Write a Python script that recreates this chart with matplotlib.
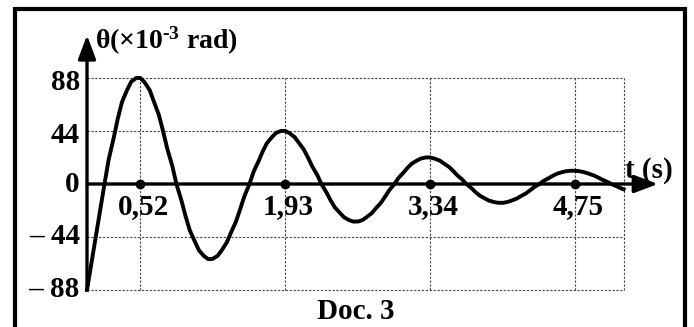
import matplotlib
matplotlib.use("Agg")
import matplotlib.pyplot as plt
from matplotlib.patches import Rectangle

plt.rcParams['font.family'] = ['Liberation Serif', 'DejaVu Serif']
plt.rcParams['font.weight'] = 'bold'
plt.rcParams['mathtext.fontset'] = 'custom'
plt.rcParams['mathtext.rm'] = 'Liberation Serif:bold'
plt.rcParams['mathtext.bf'] = 'Liberation Serif:bold'
plt.rcParams['mathtext.it'] = 'Liberation Serif:bold'

t = [0, 0.17, 0.21, 0.26, 0.30, 0.34, 0.39, 0.43, 0.48,
     0.52, 0.56, 0.61, 0.65, 0.70, 0.74, 0.78, 0.83, 0.87, 0.92, 0.96, 1.00,
     1.05, 1.09, 1.14, 1.18, 1.22, 1.27, 1.31, 1.36, 1.40, 1.45, 1.49, 1.53,
     1.58, 1.62, 1.67, 1.71, 1.75, 1.80, 1.84, 1.89,
     1.93, 1.97, 2.02, 2.06, 2.11, 2.15, 2.19, 2.24, 2.28, 2.33, 2.37, 2.41,
     2.46, 2.50, 2.55, 2.59, 2.64, 2.68, 2.72, 2.77, 2.81, 2.86, 2.90, 2.94,
     2.99, 3.03, 3.08, 3.12, 3.16, 3.21, 3.25, 3.30,
     3.34, 3.38, 3.43, 3.47, 3.52, 3.56, 3.60, 3.65, 3.69, 3.74, 3.78, 3.82,
     3.87, 3.91, 3.96, 4.00, 4.05, 4.09, 4.13, 4.18, 4.22, 4.27, 4.31, 4.35,
     4.40, 4.44, 4.49, 4.53, 4.57, 4.62, 4.66, 4.71,
     4.75, 4.79, 4.84, 4.88, 4.93, 4.97, 5.01, 5.06, 5.10, 5.15, 5.19, 5.22]
theta = [-88, 0, 20.0, 38.4, 54.5, 67.9, 78.1, 84.9, 88.1,
         88, 84.5, 77.9, 68.6, 57.1, 43.9, 29.6, 14.8, 0, -14.1, -27.1, -38.5,
         -48.0, -55.2, -60.0, -62.4, -62.2, -59.7, -55.1, -48.5, -40.4, -31.0, -20.9, -10.4,
         0, 10.0, 19.2, 27.2, 33.9, 39.0, 42.5, 44.1,
         44, 42.2, 38.9, 34.3, 28.5, 21.9, 14.8, 7.4, 0, -7.1, -13.6, -19.3,
         -24.0, -27.6, -30.0, -31.2, -31.1, -29.9, -27.5, -24.2, -20.2, -15.5, -10.5, -5.2,
         0, 5.0, 9.6, 13.6, 17.0, 19.5, 21.2, 22.1,
         22, 21.1, 19.5, 17.1, 14.3, 11.0, 7.4, 3.7, 0, -3.5, -6.8, -9.6,
         -12.0, -13.8, -15.0, -15.6, -15.6, -14.9, -13.8, -12.1, -10.1, -7.8, -5.2, -2.6,
         0, 2.5, 4.8, 6.8, 8.5, 9.8, 10.6, 11.0,
         11, 10.6, 9.7, 8.6, 7.1, 5.5, 3.7, 1.8, 0, -1.8, -3.4, -4.4]

t_ticks = [0.52, 1.93, 3.34, 4.75]
t_labels = ['0,52', '1,93', '3,34', '4,75']
y_ticks = [88, 44, 0, -44, -88]
y_labels = ['88', '44', '0', '– 44', '– 88']
t_end = 5.22

fig = plt.figure(figsize=(6.94, 3.27), dpi=100)
ax = fig.add_axes([0, 0, 1, 1])
ax.set_xlim(-87 / 102.8, (694 - 87) / 102.8)
ax.set_ylim(-(327 - 184) / 1.2045, 184 / 1.2045)
ax.axis('off')

# cadre
fig.add_artist(Rectangle((14.5 / 694, -0.1), (684.5 - 14.5) / 694, 1.1 - 9 / 327,
                         transform=fig.transFigure, fill=False, lw=3, ec='black'))

# quadrillage
grid = dict(colors='#444444', lw=0.8, linestyles=(0, (2, 1.5)), zorder=1)
ax.hlines([v for v in y_ticks if v != 0], 0, t_end, **grid)
ax.vlines(t_ticks + [t_end], -88, 88, **grid)

# axes
arrow = dict(arrowstyle='-|>,head_length=0.8,head_width=0.3', lw=2.4,
             color='black', shrinkA=0, shrinkB=0, mutation_scale=18)
ax.annotate('', xy=(0, 123.5), xytext=(0, -88), arrowprops=arrow, zorder=3)
ax.annotate('', xy=(5.555, 0), xytext=(0, 0), arrowprops=arrow, zorder=3)

ax.plot(t, theta, color='black', lw=2.8, solid_joinstyle='round', zorder=4)
ax.plot(t_ticks, [0] * len(t_ticks), 'o', color='black', ms=6, zorder=5)

fs = 21
for x, lab in zip(t_ticks, t_labels):
    ax.text(x + 0.03, -19, lab, ha='center', va='center', fontsize=fs, fontweight='bold')
for v, lab in zip(y_ticks, y_labels):
    ax.text(-0.07, v - (4 if v > 0 else 0), lab, ha='right', va='center',
            fontsize=fs, fontweight='bold')

ax.text(0.075, 112, r'θ(×10$^{\text{-3}}$ rad)', ha='left', va='baseline',
        fontsize=20, fontweight='bold')
ax.text(5.23, 5.5, 't (s)', ha='left', va='baseline', fontsize=fs, fontweight='bold')
ax.text(2.617, -112, 'Doc. 3', ha='center', va='baseline', fontsize=fs, fontweight='bold')

fig.savefig('out.png', dpi=100)
